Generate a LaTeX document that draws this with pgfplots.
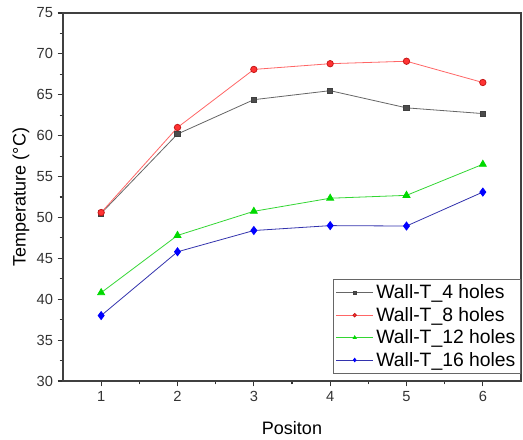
\documentclass[border=0pt]{standalone}
\usepackage{fontspec}
\setmainfont{Liberation Sans}
\usepackage{pgfplots}
\pgfplotsset{compat=1.18}
\begin{document}
\begin{tikzpicture}
\begin{axis}[
  width=343.5pt, height=276pt, scale only axis,
  xmin=0.5, xmax=6.5, ymin=30, ymax=75,
  xtick={1,...,6}, ytick={30,35,...,75},
  minor x tick num=1, minor y tick num=1,
  tick align=outside, xtick pos=left, ytick pos=left,
  major tick length=4pt, minor tick length=2.5pt,
  every tick/.style={black!80, line width=0.8pt},
  axis line style={black!75, line width=1pt},
  /pgf/number format/assume math mode=true,
  tick label style={font=\fontsize{11}{13}\selectfont, black!80},
  xlabel={Positon}, ylabel={Temperature (°C)},
  every axis x label/.style={at={(axis description cs:0.5,-0.127)}, anchor=center,
    font=\fontsize{13.5}{16}\selectfont},
  every axis y label/.style={at={(axis description cs:-0.092,0.5)}, anchor=center, rotate=90,
    font=\fontsize{13.5}{16}\selectfont},
  legend style={at={(1,0.02)}, anchor=south east, draw=black!60,
    font=\fontsize{14.5}{16}\selectfont, row sep=0.8pt, inner sep=2pt},
  legend cell align=left,
  legend image code/.code={\draw[mark repeat=2, mark phase=2, mark size=1.3pt] plot coordinates {(0pt,0pt) (14pt,0pt) (28pt,0pt)};},
  every axis plot/.append style={line width=0.6pt},
]
\addplot[color=black!60, mark=square*, mark size=2pt, mark options={draw=black!75, fill=black!70}] coordinates {
 (1,50.5) (2,60.2) (3,64.4) (4,65.5) (5,63.4) (6,62.7)};
\addlegendentry{Wall-T\_4 holes}
\addplot[color=red!60!white, mark=*, mark size=2.4pt, mark options={draw=red!75!black!90, fill=red!80}] coordinates {
 (1,50.6) (2,61.0) (3,68.1) (4,68.8) (5,69.1) (6,66.5)};
\addlegendentry{Wall-T\_8 holes}
\addplot[color=green!80!black!80!white, mark=triangle*, mark size=3pt, mark options={draw=green!85!black, fill=green!85!black}] coordinates {
 (1,40.8) (2,47.8) (3,50.75) (4,52.35) (5,52.7) (6,56.5)};
\addlegendentry{Wall-T\_12 holes}
\addplot[color=blue!60!black!80!white, mark=diamond*, mark size=3pt, mark options={draw=blue, fill=blue}] coordinates {
 (1,38.0) (2,45.8) (3,48.4) (4,49.0) (5,48.95) (6,53.1)};
\addlegendentry{Wall-T\_16 holes}
\end{axis}
\pgfresetboundingbox
\path ([shift={(-47.25pt,-44.25pt)}]current axis.south west) rectangle ([shift={(1.5pt,9.75pt)}]current axis.north east);
\end{tikzpicture}
\end{document}
